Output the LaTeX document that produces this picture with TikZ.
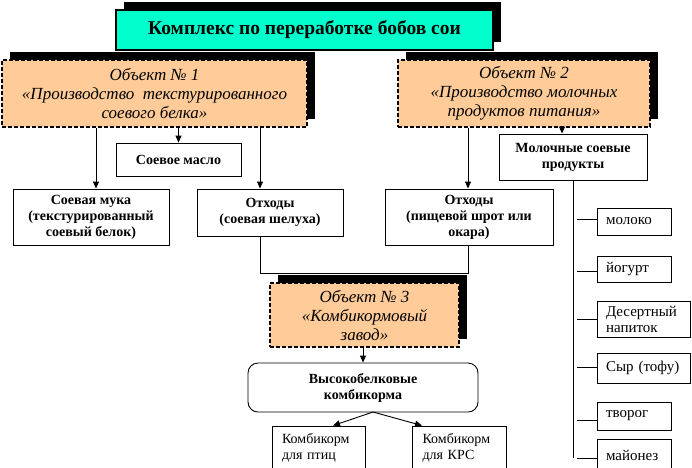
\documentclass[tikz,border=0pt]{standalone}
\usepackage{fontspec}
\setmainfont{Liberation Serif}
\usetikzlibrary{arrows.meta}
\definecolor{teal1}{HTML}{00FFCC}
\definecolor{peach}{HTML}{FFCC99}
\tikzset{
  ln/.style={line width=0.9pt},
  arr/.style={ln,-{Triangle[width=6pt,length=7pt]}},
  shadowbox/.style={fill=black},
  titlebox/.style={draw, line width=2.5pt, fill=teal1, inner sep=0pt,
    font=\bfseries\fontsize{19.5}{21}\selectfont},
  objbox/.style={draw, line width=1.6pt, dash pattern=on 4pt off 2pt, fill=peach,
    inner sep=0pt, align=center, font=\itshape\fontsize{17}{19}\selectfont},
  mainbox/.style={draw, ln, fill=white, inner sep=0pt, align=center,
    font=\bfseries\fontsize{14}{16}\selectfont},
  smallbox/.style={draw, ln, fill=white, inner ysep=0pt, inner xsep=9pt, align=left,
    font=\fontsize{15}{16}\selectfont},
  feedbox/.style={draw, ln, fill=white, inner ysep=0pt, inner xsep=10pt, align=left,
    text width=73pt, font=\fontsize{14}{16}\selectfont},
}
\begin{document}
\begin{tikzpicture}[x=1pt,y=-1pt]
\useasboundingbox (0,0) rectangle (692,467);
\clip (0,0) rectangle (692,467);
% shadows
\fill[shadowbox] (124,2) rectangle (501,42);
\fill[shadowbox] (10,52) rectangle (315,119);
\fill[shadowbox] (406,52) rectangle (658,119);
% title
\node[titlebox, minimum width=377pt, minimum height=40pt] (title) at (304.5,30)
  {Комплекс по переработке бобов сои};
% objects
\node[objbox, minimum width=305pt, minimum height=67pt] (obj1) at (154.5,93.5)
  {Объект № 1\\«Производство\ \ текстурированного\\соевого белка»};
\node[objbox, minimum width=252pt, minimum height=67pt] (obj2) at (524,93.5)
  {Объект № 2\\«Производство молочных\\продуктов питания»};
% products
\node[mainbox, minimum width=125pt, minimum height=33pt] (maslo) at (178.5,159.5) {Соевое масло};
\node[mainbox, minimum width=156pt, minimum height=56pt] (muka) at (91,217)
  {Соевая мука\\(текстурированный\\соевый белок)};
\node[mainbox, minimum width=146pt, minimum height=47pt] (otx1) at (270,212.5)
  {Отходы\\(соевая шелуха)};
\node[mainbox, minimum width=168pt, minimum height=56pt] (otx2) at (469,217)
  {Отходы\\(пищевой шрот или\\окара)};
\node[mainbox, minimum width=148pt, minimum height=46pt] (mol) at (573,157)
  {Молочные соевые\\продукты};
% dairy list
\node[smallbox, text width=56pt, minimum width=74pt, minimum height=27pt] (moloko) at (634,221.5) {молоко};
\node[smallbox, text width=56pt, minimum width=74pt, minimum height=26pt] (yogurt) at (634,269) {йогурт};
\node[smallbox, text width=75pt, minimum width=93pt, minimum height=36pt] (desert) at (643.5,319) {Десертный\\напиток};
\node[smallbox, text width=75pt, minimum width=93pt, minimum height=30pt] (syr) at (643.5,368) {Сыр (тофу)};
\node[smallbox, text width=56pt, minimum width=74pt, minimum height=28pt] (tvorog) at (634,416) {творог};
\node[smallbox, text width=56pt, minimum width=74pt, minimum height=33pt] (mayonez) at (634,455.5) {майонез};
% object 3
\fill[shadowbox] (278,275) rectangle (467,339);
\node[objbox, minimum width=189pt, minimum height=64pt] (obj3) at (364.5,315)
  {Объект № 3\\«Комбикормовый\\завод»};
\node[mainbox, rounded corners=10pt, minimum width=230pt, minimum height=49pt] (vys) at (363,387.5)
  {Высокобелковые\\комбикорма};
\node[feedbox, minimum width=93pt, minimum height=44pt] (ptic) at (318.5,448) {Комбикорм\\для птиц};
\node[feedbox, minimum width=94pt, minimum height=44pt] (krs) at (459,448) {Комбикорм\\для КРС};
% connectors from object 1
\draw[arr] (obj1.south -| 96,0) -- (muka.north -| 96,0);
\draw[arr] (obj1.south -| maslo.north) -- (maslo.north);
\draw[arr] (obj1.south -| 260,0) -- (otx1.north -| 260,0);
% connectors from object 2
\draw[arr] (obj2.south -| 468,0) -- (otx2.north -| 468,0);
\draw[arr] (obj2.south -| 562,0) -- (mol.north -| 562,0);
% waste to object 3
\coordinate (jl) at (260,273);
\coordinate (jr) at (468,273);
\draw[ln] (otx1.south -| jl) -- (jl) -- (jr) -- (otx2.south -| jr);
% object 3 to feed
\draw[arr] (obj3.south -| vys.north) -- (vys.north);
\coordinate (split) at (373,412);
\draw[arr] (split) -- (ptic.north -| 333,0);
\draw[arr] (split) -- (krs.north -| 422,0);
% dairy tree
\coordinate (trunk) at (573,458);
\draw[ln] (mol.south -| trunk) -- (trunk);
\foreach \n/\yy in {moloko/219, yogurt/271, desert/319, syr/367, tvorog/420, mayonez/458}{
  \draw[ln] (577,\yy) -- (\n.west |- 577,\yy);
}
\end{tikzpicture}
\end{document}
